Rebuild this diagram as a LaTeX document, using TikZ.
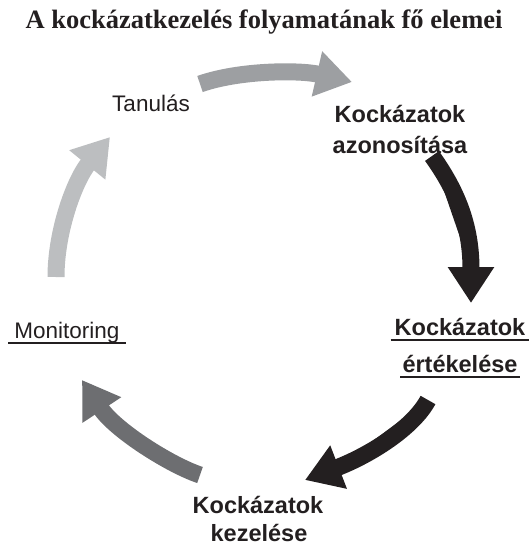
\documentclass[tikz,border=0pt]{standalone}
\usepackage{fontspec}
\setmainfont{Liberation Sans}
\newfontfamily\titlefont{Liberation Serif}
\usetikzlibrary{arrows.meta}
\definecolor{cTop}{HTML}{9D9FA2}
\definecolor{cDark}{HTML}{231F20}
\definecolor{cMid}{HTML}{6D6E71}
\definecolor{cLight}{HTML}{BCBEC0}
\begin{document}
\begin{tikzpicture}[x=1pt,y=-1pt,
  lbl/.style={inner sep=0pt, anchor=base, text=cDark, font=\fontsize{22.5}{27}\selectfont},
  blbl/.style={inner sep=0pt, anchor=base, text=cDark, font=\fontsize{23.5}{27}\selectfont\bfseries},
  flow/.style={line width=17pt, -{Triangle[width=44pt,length=36pt]}},
  uline/.style={line width=2.2pt, draw=cDark}]
\useasboundingbox (0,0) rectangle (528,546);
\node[inner sep=0pt, anchor=base, text=cDark, font=\titlefont\fontsize{26.5}{30}\selectfont\bfseries] (title) at (264,28) {A kockázatkezelés folyamatának fő elemei};
\node[lbl] (tan) at (151,111) {Tanulás};
\node[blbl] (az1) at (400,122) {Kockázatok};
\node[blbl] (az2) at (400,153) {azonosítása};
\node[blbl] (er1) at (460,335) {Kockázatok};
\node[blbl] (er2) at (460,372) {értékelése};
\node[blbl] (ke1) at (258,513) {Kockázatok};
\node[blbl] (ke2) at (259,541) {kezelése};
\node[lbl] (mon) at (67,338) {Monitoring};
% underlines
\draw[uline] ([xshift=-6pt,yshift=-5pt]mon.base west) -- ([xshift=6pt,yshift=-5pt]mon.base east);
\draw[uline] ([xshift=-4pt,yshift=-5pt]er1.base west) -- ([xshift=4pt,yshift=-5pt]er1.base east);
\draw[uline] ([xshift=-2pt,yshift=-5pt]er2.base west) -- ([xshift=2pt,yshift=-5pt]er2.base east);
% arrow coordinates
\coordinate (t0) at (200,84);  \coordinate (t1) at (352,82);
\coordinate (r0) at (432,156); \coordinate (r1) at (471,303);
\coordinate (b0) at (428,400); \coordinate (b1) at (305,480);
\coordinate (m0) at (200,475); \coordinate (m1) at (82,380);
\coordinate (l0) at (56,277);  \coordinate (l1) at (110,137);
\draw[flow, draw=cTop, fill=cTop] (t0) .. controls (240,70) and (300,70) .. (t1);
\draw[flow, draw=cDark, fill=cDark] (r0) .. controls (460,195) and (471,230) .. (r1);
\draw[flow, draw=cDark, fill=cDark] (b0) .. controls (413,428) and (370,455) .. (b1);
\draw[flow, draw=cMid, fill=cMid] (m0) .. controls (170,465) and (115,430) .. (m1);
\draw[flow, draw=cLight, fill=cLight] (l0) .. controls (56,230) and (75,180) .. (l1);
\end{tikzpicture}
\end{document}
